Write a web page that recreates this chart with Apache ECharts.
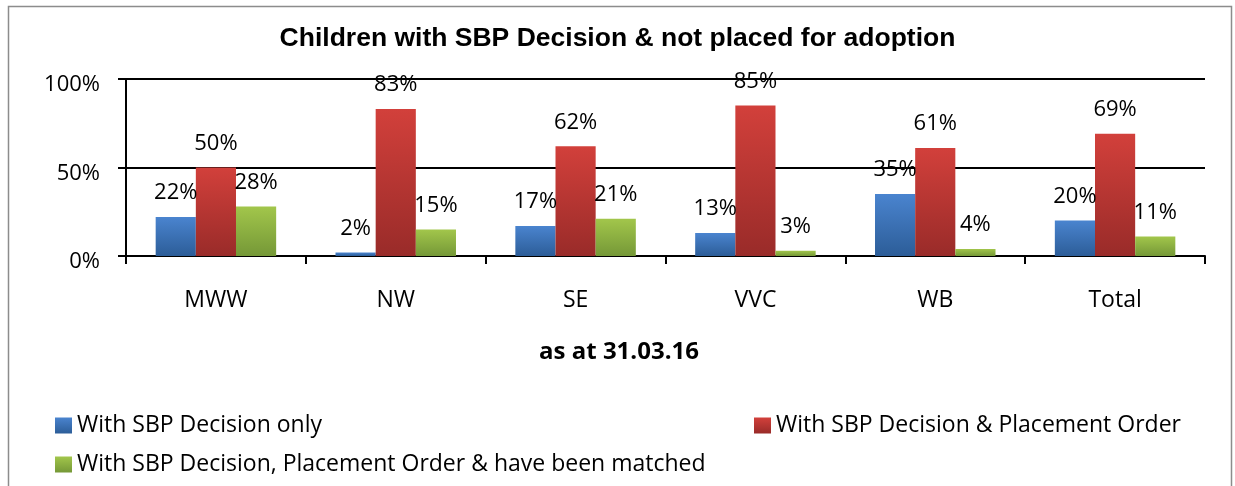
<!DOCTYPE html>
<html>
<head>
<meta charset="utf-8">
<script src="https://cdn.jsdelivr.net/npm/echarts@6/dist/echarts.min.js"></script>
<style>
  html, body { margin: 0; padding: 0; background: #fff; }
  #chart { width: 1235px; height: 486px; }
</style>
</head>
<body>
<div id="chart"></div>
<script>
const categories = ["MWW", "NW", "SE", "VVC", "WB", "Total"];
const sbpOnly = [0.22, 0.02, 0.17, 0.13, 0.35, 0.20];
const sbpPlacement = [0.50, 0.83, 0.62, 0.85, 0.61, 0.69];
const sbpMatched = [0.28, 0.15, 0.21, 0.03, 0.04, 0.11];
const seriesNames = [
  "With SBP Decision only",
  "With SBP Decision & Placement Order",
  "With SBP Decision, Placement Order & have been matched"
];

const font = "'Open Sans', sans-serif";

function grad(top, bottom) {
  return new echarts.graphic.LinearGradient(0, 0, 0, 1, [
    { offset: 0, color: top },
    { offset: 1, color: bottom }
  ]);
}

const colors = [
  grad("#4a84cf", "#2c5d98"),
  grad("#d2403b", "#992b29"),
  grad("#a2c64b", "#759837")
];

function pct(v) {
  return Math.round(v * 100) + "%";
}

function makeSeries(name, data, color) {
  return {
    name: name,
    type: "bar",
    data: data,
    barGap: "0%",
    barCategoryGap: "33%",
    itemStyle: { color: color },
    label: {
      show: true,
      position: "top",
      distance: 13,
      color: "#000",
      fontFamily: font,
      fontSize: 22,
      formatter: p => pct(p.value)
    }
  };
}

function legendAt(name, left, top) {
  return {
    data: [name],
    left: left,
    top: top,
    padding: 0,
    itemWidth: 17,
    itemHeight: 16,
    itemGap: 6,
    icon: "rect",
    textStyle: { fontFamily: font, fontSize: 23, color: "#000" }
  };
}

const chart = echarts.init(document.getElementById("chart"));
chart.setOption({
  animation: false,
  color: colors,
  title: [
    {
      text: "Children with SBP Decision & not placed for adoption",
      left: "center",
      top: 25,
      padding: 0,
      textStyle: { fontFamily: "'Liberation Sans', Arial, sans-serif", fontSize: 26.5, fontWeight: "bold", color: "#000" }
    },
    {
      text: "as at 31.03.16",
      left: 619,
      textAlign: "center",
      top: 340,
      padding: 0,
      textStyle: { fontFamily: font, fontSize: 24, fontWeight: "bold", color: "#000" }
    }
  ],
  graphic: [
    {
      type: "rect",
      shape: { x: 8.5, y: 6.5, width: 1223, height: 500 },
      style: { fill: "none", stroke: "#8c8c8c", lineWidth: 1.5 },
      silent: true
    }
  ],
  legend: [
    legendAt(seriesNames[0], 55, 414),
    legendAt(seriesNames[1], 754, 414),
    legendAt(seriesNames[2], 55, 453)
  ],
  grid: { left: 126, right: 30, top: 79, bottom: 230 },
  xAxis: {
    type: "category",
    data: categories,
    axisLine: { lineStyle: { color: "#000", width: 2 } },
    axisTick: { show: true, length: 8, lineStyle: { color: "#000", width: 2 } },
    axisLabel: { color: "#000", fontFamily: font, fontSize: 23, margin: 33 }
  },
  yAxis: {
    type: "value",
    min: 0,
    max: 1,
    interval: 0.5,
    axisLine: { show: true, lineStyle: { color: "#000", width: 2 } },
    axisTick: { show: true, length: 8, lineStyle: { color: "#000", width: 2 } },
    axisLabel: {
      color: "#000",
      fontFamily: font,
      fontSize: 22,
      margin: 26,
      verticalAlign: "top",
      lineHeight: 12,
      formatter: v => pct(v)
    },
    splitLine: { lineStyle: { color: "#000", width: 2 } }
  },
  series: [
    makeSeries(seriesNames[0], sbpOnly, colors[0]),
    makeSeries(seriesNames[1], sbpPlacement, colors[1]),
    makeSeries(seriesNames[2], sbpMatched, colors[2])
  ]
});
</script>
</body>
</html>
